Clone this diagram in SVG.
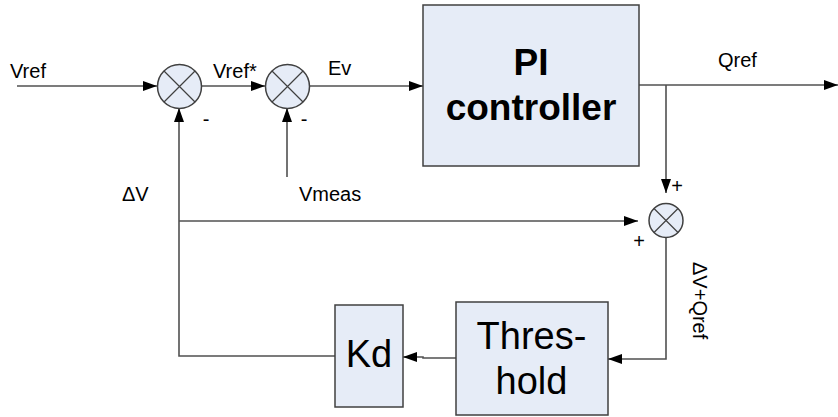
<svg xmlns="http://www.w3.org/2000/svg" width="838" height="417" viewBox="0 0 838 417">
<defs>
<style>
.box{fill:#e6ecf7;stroke:#404040;stroke-width:1.5}
.sum{fill:#e6ecf7;stroke:#404040;stroke-width:1.5}
.x{stroke:#404040;stroke-width:1.2}
.ln{fill:none;stroke:#505050;stroke-width:1.6}
.t{font-family:"Liberation Sans",Arial,sans-serif;fill:#000}
.s{font-size:20px}
.big{font-size:38px;text-anchor:middle}
.bold{font-size:37px;font-weight:bold;text-anchor:middle}
.sg{font-size:20px;text-anchor:middle}
</style>
<marker id="ah" viewBox="0 0 14 10" refX="14" refY="5" markerWidth="14" markerHeight="10" markerUnits="userSpaceOnUse" orient="auto">
<path d="M0,0 L14,5 L0,10 Z" fill="#000"/>
</marker>
</defs>
<rect width="838" height="417" fill="#fff"/>
<g id="connectors">
<path class="ln" d="M17,86 H157" marker-end="url(#ah)"/>
<path class="ln" d="M202,86 H265" marker-end="url(#ah)"/>
<path class="ln" d="M310,86 H423" marker-end="url(#ah)"/>
<path class="ln" d="M639,85 H838" marker-end="url(#ah)"/>
<path class="ln" d="M666,85 V193" marker-end="url(#ah)"/>
<path class="ln" d="M287,177 V108" marker-end="url(#ah)"/>
<path class="ln" d="M335,356 H179 V108" marker-end="url(#ah)"/>
<path class="ln" d="M179,221 H638" marker-end="url(#ah)"/>
<path class="ln" d="M666,238 V359 H608" marker-end="url(#ah)"/>
<path class="ln" d="M456,358 H423 V357 H403" marker-end="url(#ah)"/>
</g>
<g id="sum1">
<circle class="sum" cx="179.5" cy="86.5" r="22"/>
<path class="x" d="M164,71 L195,102 M195,71 L164,102"/>
</g>
<g id="sum2">
<circle class="sum" cx="287.5" cy="86.5" r="22"/>
<path class="x" d="M272,71 L303,102 M303,71 L272,102"/>
</g>
<g id="sum3">
<circle class="sum" cx="666" cy="220.5" r="17"/>
<path class="x" d="M654,208.5 L678,232.5 M678,208.5 L654,232.5"/>
</g>
<g id="pi">
<rect class="box" x="423" y="5" width="216" height="161"/>
<text class="t bold" x="531" y="75">PI</text>
<text class="t bold" x="531" y="120">controller</text>
</g>
<g id="threshold">
<rect class="box" x="456" y="302" width="152" height="113"/>
<text class="t big" x="531.5" y="349">Thres-</text>
<text class="t big" x="531.5" y="394">hold</text>
</g>
<g id="kd">
<rect class="box" x="335" y="305" width="68" height="102"/>
<text class="t big" x="369" y="367">Kd</text>
</g>
<g id="labels">
<text class="t s" x="10" y="78">Vref</text>
<text class="t s" x="213" y="78">Vref*</text>
<text class="t s" x="328" y="75">Ev</text>
<text class="t s" x="718" y="67">Qref</text>
<text class="t s" x="299" y="201">Vmeas</text>
<text class="t s" x="122" y="201">ΔV</text>
<text class="t sg" x="206" y="126">-</text>
<text class="t sg" x="304" y="126">-</text>
<text class="t sg" x="677" y="193">+</text>
<text class="t sg" x="639" y="248">+</text>
<text class="t s" transform="translate(693,262) rotate(90)">ΔV+Qref</text>
</g>
</svg>
